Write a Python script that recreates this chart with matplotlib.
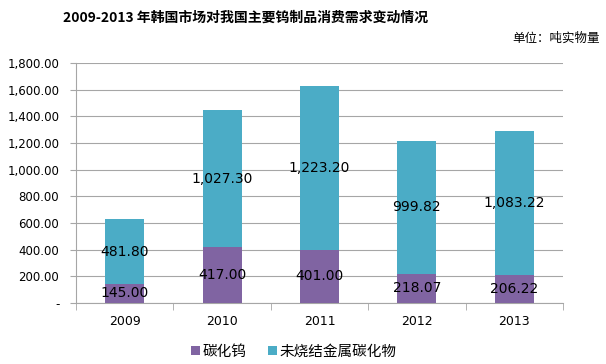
import matplotlib.pyplot as plt
import numpy as np

plt.rcParams['font.family'] = ['Noto Sans CJK SC', 'DejaVu Sans']

years = ['2009', '2010', '2011', '2012', '2013']
wc = [145.00, 417.00, 401.00, 218.07, 206.22]          # 碳化钨
unsint = [481.80, 1027.30, 1223.20, 999.82, 1083.22]   # 未烧结金属碳化物
yticks = [0, 200, 400, 600, 800, 1000, 1200, 1400, 1600, 1800]

purple = '#8064A2'
teal = '#4BACC6'
grey = '#A6A6A6'

fig = plt.figure(figsize=(6.06, 3.64), dpi=100)
ax = fig.add_axes([0.1254, 0.1676, 0.8036, 0.6594])

x = np.arange(len(years))
w = 0.4
b1 = ax.bar(x, wc, w, color=purple, label='碳化钨', zorder=3)
b2 = ax.bar(x, unsint, w, bottom=wc, color=teal, label='未烧结金属碳化物', zorder=3)

for i in range(len(years)):
    ax.text(x[i], wc[i] / 2, f'{wc[i]:,.2f}', ha='center', va='center',
            fontsize=10, family='DejaVu Sans', zorder=4)
    ax.text(x[i], wc[i] + unsint[i] / 2, f'{unsint[i]:,.2f}', ha='center', va='center',
            fontsize=10, family='DejaVu Sans', zorder=4)

ax.set_xlim(-0.5, len(years) - 0.5)
ax.set_ylim(0, 1800)
ax.set_yticks(yticks)
ax.set_yticklabels(['-' if v == 0 else f'{v:,.2f}' for v in yticks],
                   family='DejaVu Sans', fontsize=8.5)
ax.yaxis.grid(True, color=grey, linewidth=0.8, zorder=0)
ax.tick_params(axis='y', length=4, color=grey, pad=8)

ax.set_xticks(x)
ax.set_xticklabels(years, family='DejaVu Sans', fontsize=9)
ax.set_xticks(np.arange(-0.5, len(years)), minor=True)
ax.tick_params(axis='x', which='major', length=0, pad=9)
ax.tick_params(axis='x', which='minor', length=5, color=grey)

for s in ['top', 'right']:
    ax.spines[s].set_visible(False)
ax.spines['left'].set_color(grey)
ax.spines['bottom'].set_color(grey)

fig.text(0.406, 0.952, '2009-2013 年韩国市场对我国主要钨制品消费需求变动情况',
         ha='center', va='center', fontsize=10, fontweight='bold')
fig.text(0.99, 0.895, '单位：吨实物量', ha='right', va='center', fontsize=9)

fig.legend(handles=[b1, b2], loc='center', bbox_to_anchor=(0.485, 0.033), ncol=2,
           frameon=False, fontsize=10.5, handlelength=0.6, handleheight=0.6,
           handletextpad=0.2, columnspacing=1.5)

fig.savefig('out.png', dpi=100)
